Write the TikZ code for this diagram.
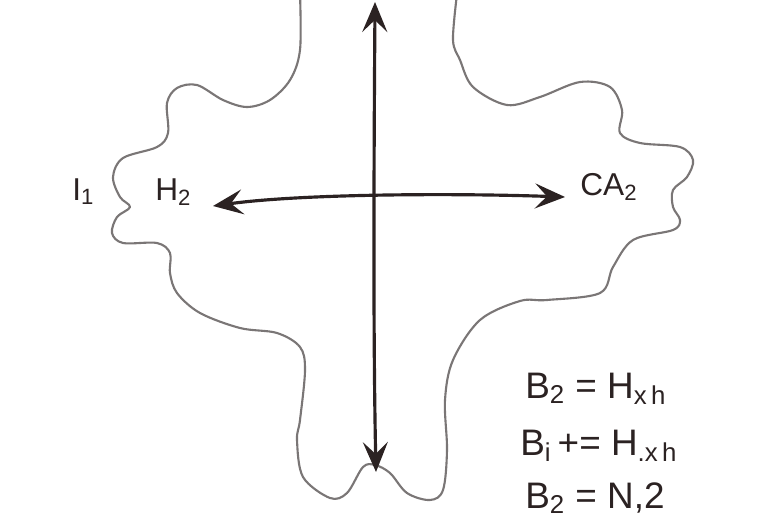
\documentclass[tikz,border=0pt]{standalone}
\usepackage{fontspec}
\setmainfont{Liberation Sans}
\usetikzlibrary{arrows.meta}
\definecolor{ink}{HTML}{2B2222}
\definecolor{outl}{HTML}{7A7676}
\tikzset{
  outline/.style={draw=outl, line width=1.2pt, line join=round},
  arr/.style={draw=ink, line width=1.8pt, line cap=round,
    {Stealth[length=6mm,width=5mm,inset=2.4mm]}-{Stealth[length=6mm,width=5mm,inset=2.4mm]}},
  lbl/.style={text=ink, font=\fontsize{18}{21}\selectfont, inner sep=0pt, anchor=base west},
  eqn/.style={text=ink, font=\fontsize{21}{25}\selectfont, inner sep=0pt, anchor=base west}
}
\begin{document}
\begin{tikzpicture}[x=0.02cm, y=-0.02cm]
\useasboundingbox[fill=white] (0,0) rectangle (770,518);
\draw[outline] plot[smooth, tension=0.55] coordinates {
(300,-6) (300,50) (290,80) (270,100) (247,107) (223,100) (197,85) (177,88) (167,103) (168,133) (157,147) (123,158) (113,177) (120,197) (130,207) (117,217) (112,233) (123,243) (157,243) (170,253) (170,273) (177,293) (200,313) (240,328) (277,333) (300,347) (305,370) (300,420) (297,440) (303,477) (330,498) (347,493) (363,467) (375,465) (390,473) (407,493) (430,500) (443,490) (447,450) (445,400) (453,360) (480,320) (520,301) (547,300) (600,293) (613,267) (633,240) (673,230) (680,220) (673,207) (673,190) (687,177) (693,160) (680,147) (640,143) (620,133) (622,110) (610,87) (580,82) (540,97) (507,105) (473,87) (460,60) (453,40) (457,-6)};
\coordinate (vt) at (375,2);
\coordinate (vb) at (376,472);
\coordinate (hl) at (213,206);
\coordinate (hr) at (565,197);
\draw[arr] (vb) .. controls (373,330) and (374,150) .. (vt);
\draw[arr] (hl) .. controls (300,194) and (450,193) .. (hr);
\node[lbl] (I1) at (72,200) {I\textsubscript{1}};
\node[lbl] (H2) at (155,200) {H\textsubscript{2}};
\node[lbl] (CA2) at (580,195) {CA\textsubscript{2}};
\node[eqn] (eq1) at (525,398) {B\textsubscript{2} = H\textsubscript{x\,h}};
\node[eqn] (eq2) at (520,455) {B\textsubscript{i}\,+= H\textsubscript{.x\,h}};
\node[eqn] (eq3) at (525,508) {B\textsubscript{2} = N,2};
\end{tikzpicture}
\end{document}
